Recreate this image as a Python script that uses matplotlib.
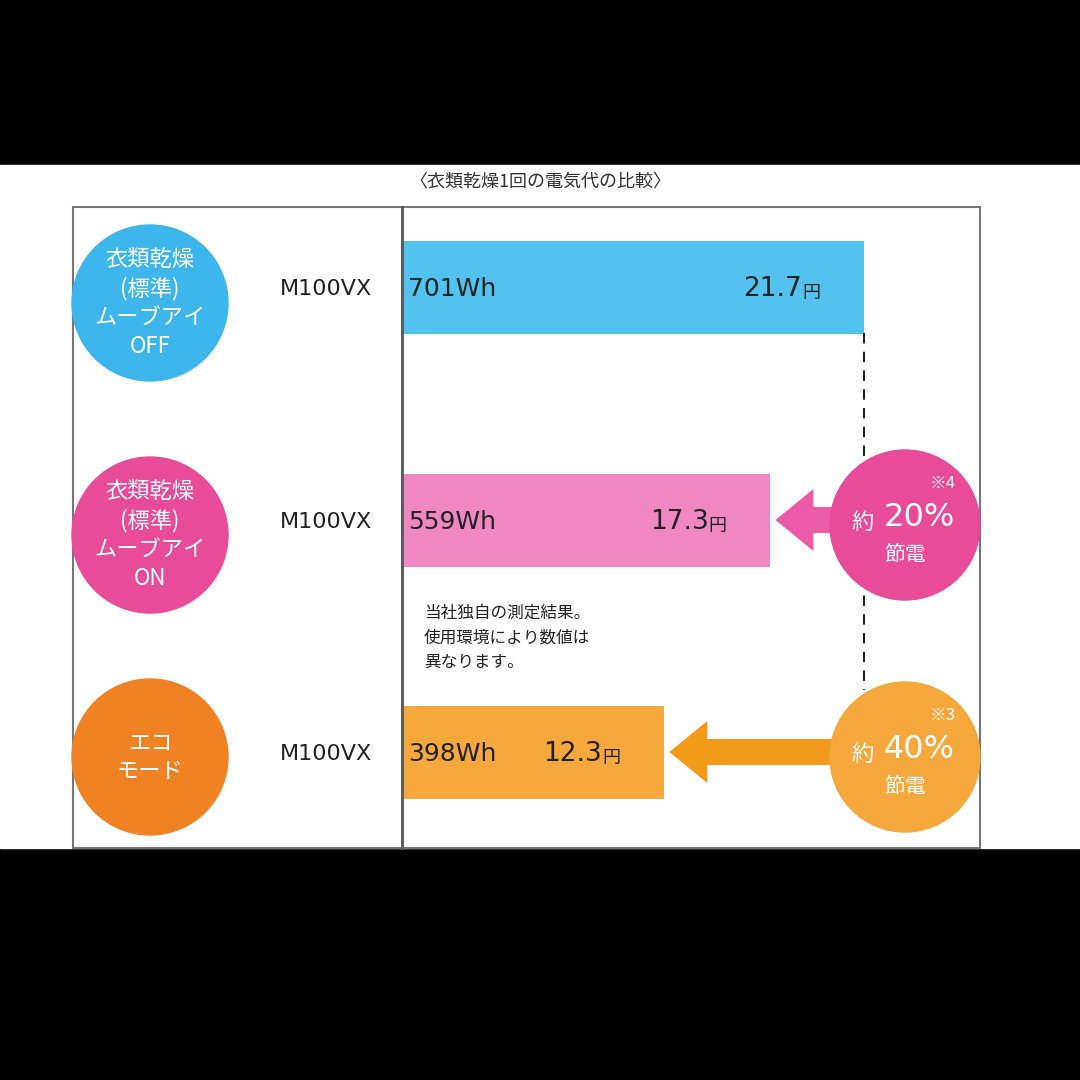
import matplotlib
matplotlib.use("Agg")
import matplotlib.pyplot as plt
from matplotlib.patches import Circle, Rectangle, FancyArrow

plt.rcParams['font.family'] = ['Noto Sans CJK JP', 'DejaVu Sans']
NUM = ['DejaVu Sans', 'Noto Sans CJK JP']

modes = ["衣類乾燥\n(標準)\nムーブアイ\nOFF", "衣類乾燥\n(標準)\nムーブアイ\nON", "エコ\nモード"]
models = ["M100VX", "M100VX", "M100VX"]
wh = [701, 559, 398]
yen = ["21.7", "17.3", "12.3"]
savings = [None, ("20%", "※4"), ("40%", "※3")]
bar_colors = ["#52C3EE", "#EF88C0", "#F5A83C"]
circle_colors = ["#3DB6EC", "#E84B98", "#F08224"]
save_colors = [None, "#E84B98", "#F5A83C"]
arrow_colors = [None, "#EC5BA6", "#F39A1A"]

fig = plt.figure(figsize=(10.8, 10.8), dpi=100, facecolor="black")
ax = fig.add_axes([0, 0, 1, 1])
ax.set_xlim(0, 1080); ax.set_ylim(1080, 0); ax.axis("off")
ax.add_patch(Rectangle((0, 165), 1080, 683, color="white", zorder=0))
ax.text(540, 181, "〈衣類乾燥1回の電気代の比較〉", ha="center", va="center", fontsize=13, color="#333")
ax.add_patch(Rectangle((73, 207), 907, 641, fill=False, ec="#777", lw=1.5, zorder=1))
ax.plot([402, 402], [207, 848], color="#555", lw=2, zorder=3)

x0 = 402; scale = 462 / 701
ycent = [287, 520, 752]
bh = 93
ax.barh(ycent, [w * scale for w in wh], left=x0, height=bh, color=bar_colors, zorder=2)
ax.plot([x0 + wh[0] * scale] * 2, [333, 690], color="#222", lw=1.5, ls=(0, (5, 4)), zorder=2)

lcy = [303, 535, 757]
for i in range(3):
    ax.add_patch(Circle((150, lcy[i]), 78, color=circle_colors[i], zorder=2))
    ax.text(150, lcy[i], modes[i], ha="center", va="center", color="white",
            fontsize=16, linespacing=1.3, zorder=3)
    ax.text(326, ycent[i] + 2, models[i], ha="center", va="center", fontsize=16, color="#222", family=NUM)
    ax.text(408, ycent[i] + 2, f"{wh[i]}Wh", ha="left", va="center", fontsize=18, color="#222", zorder=3, family=NUM)
    xe = x0 + wh[i] * scale
    ax.text(xe - 62, ycent[i] + 2, yen[i], ha="right", va="center", fontsize=19, color="#222", zorder=3, family=NUM)
    ax.text(xe - 62, ycent[i] + 6, "円", ha="left", va="center", fontsize=13, color="#222", zorder=3)
    if savings[i]:
        cx, cy = 905, ycent[i] + 5
        tip = xe + 5
        ax.add_patch(FancyArrow(cx - 40, ycent[i], tip - (cx - 40), 0, width=26, head_width=62,
                                head_length=38, length_includes_head=True,
                                color=arrow_colors[i], lw=0, zorder=2))
        ax.add_patch(Circle((cx, cy), 75, color=save_colors[i], zorder=3))
        ax.text(cx + 38, cy - 42, savings[i][1], ha="center", va="center", fontsize=12, color="white", zorder=4)
        ax.text(cx - 42, cy - 3, "約", ha="center", va="center", fontsize=16, color="white", zorder=4)
        ax.text(cx + 14, cy - 8, savings[i][0], ha="center", va="center", fontsize=23, color="white", zorder=4, family=NUM)
        ax.text(cx, cy + 30, "節電", ha="center", va="center", fontsize=15, color="white", zorder=4)

ax.text(424, 638, "当社独自の測定結果。\n使用環境により数値は\n異なります。", ha="left", va="center",
        fontsize=12, color="#222", linespacing=1.6)
fig.savefig("out.png", dpi=100, facecolor="black")
